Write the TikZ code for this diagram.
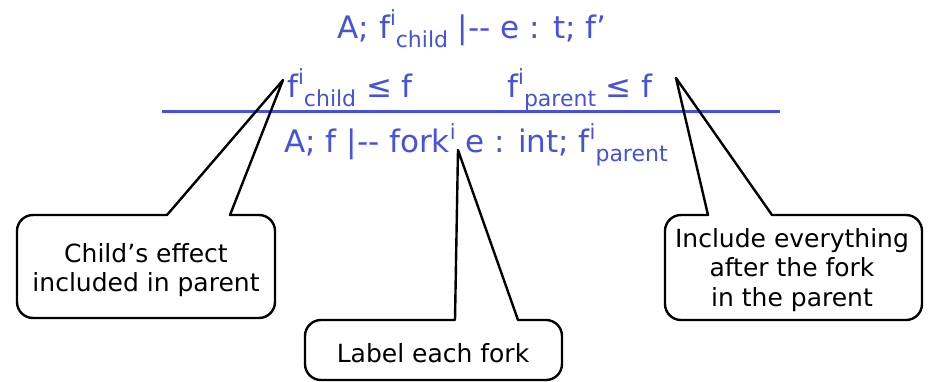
\documentclass[tikz,border=0pt]{standalone}
\usepackage{fontspec}
\setmainfont{DejaVu Sans}
\definecolor{formblue}{RGB}{72,82,216}
\newcommand{\supi}{\raisebox{0.42em}{\fontsize{21}{21}\selectfont i}}
\newcommand{\subt}[1]{\raisebox{-0.27em}{\fontsize{22}{22}\selectfont #1}}
\begin{document}
\begin{tikzpicture}[x=1pt,y=-1pt,
  formula/.style={text=formblue,inner sep=0pt,font=\fontsize{31}{35}\selectfont},
  note/.style={text=black,inner sep=0pt,align=center,font=\fontsize{25}{29.5}\selectfont},
  bubble/.style={draw=black,line width=2.4pt,line join=round}]
\useasboundingbox (0,0) rectangle (930,382);
% formulas
\node[formula,anchor=base] (top) at (472,39) {A; f\supi\subt{child} |-{}- e : t; f’};
\node[formula,anchor=base] (pl) at (350,98) {f\supi\subt{child} ≤ f};
\node[formula,anchor=base] (pr) at (580,98) {f\supi\subt{parent} ≤ f};
\node[formula,anchor=base] (bot) at (476,153) {A; f |-{}- fork\supi\ e : int; f\supi\subt{parent}};
\coordinate (barl) at (162,111.5);
\coordinate (barr) at (780,111.5);
\draw[formblue,line width=2.5pt] (barl) -- (barr);
% callout tips
\coordinate (tipA) at (283,80);
\coordinate (tipB) at (458,150);
\coordinate (tipC) at (676,78);
% left callout
\draw[bubble] (230,215) [rounded corners=16pt] -- (275,215) -- (275,318) -- (17,318) -- (17,215) [sharp corners] -- (167,215) -- (tipA) -- cycle;
\node[note] (nA) at (146,270) {Child’s effect\\included in parent};
% middle callout
\draw[bubble] (518,320) [rounded corners=16pt] -- (562,320) -- (562,380) -- (305,380) -- (305,320) [sharp corners] -- (455,320) -- (tipB) -- cycle;
\node[note] (nB) at (433,353) {Label each fork};
% right callout
\draw[bubble] (772,215) [rounded corners=16pt] -- (922,215) -- (922,320) -- (665,320) -- (665,215) [sharp corners] -- (708,215) -- (tipC) -- cycle;
\node[note] (nC) at (792,270) {Include everything\\after the fork\\in the parent};
\end{tikzpicture}
\end{document}
